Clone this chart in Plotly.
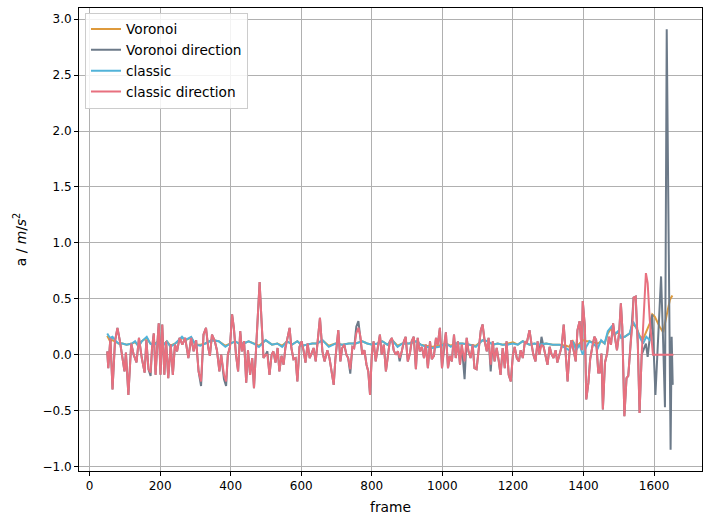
import plotly.graph_objects as go

# ---- data ----
# classic direction / Voronoi direction share these frames up to 1582
frames_dir = [
    50, 53, 59, 65, 72, 79, 86, 93, 99, 103,
    110, 118, 125, 133, 140, 148, 156, 161, 167, 173,
    177, 182, 187, 192, 196, 201, 206, 212, 217, 223,
    230, 236, 242, 248, 255, 263, 271, 280, 288, 295,
    302, 309, 316, 323, 330, 336, 341, 347, 355, 361,
    368, 373, 381, 387, 392, 398, 404, 409, 415, 421,
    427, 432, 438, 444, 449, 455, 461, 466, 472, 478,
    482, 487, 493, 499, 504, 510, 516, 521, 527, 533,
    538, 544, 550, 555, 561, 567, 572, 578, 584, 589,
    595, 601, 607, 612, 618, 624, 629, 635, 641, 646,
    653, 660, 666, 674, 680, 692, 697, 705, 711, 716,
    722, 728, 733, 739, 745, 750, 756, 762, 768, 773,
    779, 785, 790, 795, 800, 805, 811, 817, 823, 828,
    834, 840, 845, 851, 857, 862, 868, 874, 879, 885,
    891, 896, 902, 908, 913, 919, 925, 930, 936, 942,
    948, 953, 959, 965, 970, 976, 982, 987, 993, 999,
    1005, 1010, 1016, 1021, 1027, 1033, 1038, 1044, 1050, 1055,
    1063, 1069, 1074, 1080, 1086, 1091, 1097, 1103, 1109, 1114,
    1120, 1126, 1131, 1137, 1143, 1148, 1154, 1160, 1165, 1171,
    1177, 1182, 1188, 1194, 1200, 1205, 1211, 1217, 1222, 1228,
    1234, 1239, 1247, 1253, 1258, 1264, 1270, 1275, 1281, 1287,
    1292, 1298, 1304, 1309, 1315, 1321, 1326, 1332, 1338, 1344,
    1349, 1355, 1360, 1366, 1372, 1378, 1383, 1389, 1395, 1398,
    1404, 1408, 1414, 1419, 1425, 1431, 1436, 1442, 1446, 1451,
    1455, 1461, 1467, 1472, 1478, 1484, 1489, 1495, 1501, 1506,
    1510, 1516, 1522, 1527, 1533, 1539, 1542, 1548, 1554, 1559,
    1565, 1571, 1577, 1582,
]

classic_direction = [
    0.03, -0.12, 0.15, -0.31, 0.12, 0.24, 0.12, -0.03, -0.15, 0.02,
    -0.36, 0.10, 0.00, -0.07, 0.15, -0.03, -0.16, 0.13, -0.13, -0.16,
    0.06, 0.19, -0.18, 0.09, 0.28, -0.18, 0.27, -0.18, 0.12, -0.21,
    0.09, -0.18, 0.09, 0.03, 0.15, 0.09, 0.15, -0.03, 0.15, 0.03,
    0.13, -0.15, -0.24, 0.18, 0.24, 0.07, -0.01, 0.18, 0.12, 0.04,
    -0.15, 0.00, -0.18, -0.24, 0.00, 0.07, 0.36, 0.24, 0.00, -0.15,
    0.21, 0.03, 0.12, -0.25, 0.04, -0.18, -0.03, -0.30, 0.06, 0.36,
    0.65, 0.33, -0.03, 0.00, 0.00, -0.18, 0.00, 0.03, -0.07, 0.06,
    -0.15, -0.01, -0.09, 0.06, 0.15, 0.24, 0.06, -0.04, -0.03, -0.24,
    0.07, 0.12, 0.03, -0.07, 0.10, -0.03, 0.01, 0.06, -0.06, 0.09,
    0.33, 0.03, -0.06, 0.04, -0.03, -0.27, -0.03, 0.22, -0.06, 0.06,
    0.09, 0.00, -0.03, -0.13, 0.07, 0.06, 0.19, 0.24, 0.16, 0.00,
    0.04, -0.09, -0.15, -0.36, 0.00, 0.12, -0.06, 0.07, 0.18, 0.00,
    0.09, -0.15, -0.03, 0.12, 0.15, 0.04, 0.00, 0.03, -0.03, 0.03,
    0.12, 0.16, -0.06, 0.01, 0.12, 0.16, -0.13, 0.15, 0.03, 0.07,
    -0.03, 0.09, -0.12, 0.12, -0.04, -0.01, 0.15, 0.09, 0.24, -0.12,
    0.09, 0.20, -0.12, -0.01, -0.06, 0.18, -0.03, 0.12, -0.09, 0.09,
    -0.06, 0.15, 0.03, -0.03, 0.09, -0.12, -0.13, 0.03, 0.22, 0.27,
    0.12, 0.03, 0.15, -0.09, 0.12, -0.06, 0.06, -0.06, -0.18, 0.06,
    -0.12, 0.12, -0.18, -0.24, 0.00, 0.07, -0.03, -0.06, 0.04, -0.03,
    0.12, 0.10, 0.22, 0.09, 0.00, -0.06, 0.12, 0.00, 0.09, 0.07,
    -0.01, -0.09, 0.07, 0.01, -0.03, 0.04, -0.07, 0.01, 0.07, 0.27,
    0.03, -0.24, 0.01, 0.13, 0.04, -0.06, 0.22, 0.30, 0.04, 0.48,
    0.25, -0.40, -0.25, -0.04, 0.07, 0.16, 0.13, -0.16, -0.16, 0.01,
    -0.49, -0.07, 0.01, 0.16, 0.09, 0.28, 0.16, 0.04, 0.19, 0.46,
    0.25, -0.55, -0.21, -0.19, 0.07, 0.28, 0.51, 0.52, 0.10, -0.52,
    0.00, 0.34, 0.73, 0.64,
]
frames_classic_direction_tail = [1588, 1597, 1620, 1655]
classic_direction_tail = [0.31, 0.00, 0.00, 0.00]

voronoi_direction = [
    0.03, -0.12, 0.15, -0.31, 0.12, 0.24, 0.12, -0.03, -0.15, 0.02,
    -0.36, 0.10, 0.00, -0.07, 0.15, -0.03, -0.16, 0.13, -0.13, -0.19,
    0.06, 0.19, -0.18, 0.09, 0.28, -0.18, 0.27, -0.18, 0.12, -0.21,
    0.09, -0.18, 0.09, 0.03, 0.15, 0.09, 0.15, -0.03, 0.15, 0.03,
    0.13, -0.15, -0.28, 0.18, 0.24, 0.07, -0.01, 0.18, 0.12, 0.04,
    -0.15, 0.00, -0.22, -0.28, 0.00, 0.07, 0.36, 0.24, 0.00, -0.15,
    0.21, 0.03, 0.12, -0.25, 0.04, -0.18, -0.03, -0.30, 0.06, 0.36,
    0.65, 0.33, -0.03, 0.00, 0.03, -0.18, 0.00, 0.03, -0.07, 0.06,
    -0.15, -0.01, -0.09, 0.06, 0.15, 0.24, 0.06, -0.04, -0.03, -0.24,
    0.07, 0.12, 0.03, -0.07, 0.10, -0.03, 0.01, 0.06, -0.06, 0.09,
    0.33, 0.03, -0.06, 0.04, -0.03, -0.27, -0.03, 0.22, -0.06, 0.06,
    0.09, 0.00, -0.03, -0.17, 0.07, 0.06, 0.25, 0.30, 0.16, 0.00,
    0.04, -0.09, -0.15, -0.36, 0.00, 0.12, -0.06, 0.07, 0.18, 0.00,
    0.09, -0.15, -0.03, 0.12, 0.15, 0.04, 0.00, 0.03, -0.06, 0.03,
    0.12, 0.16, -0.06, 0.01, 0.12, 0.16, -0.13, 0.15, 0.03, 0.07,
    -0.03, 0.09, -0.12, 0.12, -0.04, -0.01, 0.15, 0.09, 0.24, -0.12,
    0.09, 0.20, -0.12, -0.01, -0.06, 0.18, -0.03, 0.12, -0.09, 0.09,
    -0.22, 0.15, 0.03, -0.03, 0.09, -0.12, -0.13, 0.03, 0.22, 0.27,
    0.12, 0.03, 0.15, -0.15, 0.12, -0.06, 0.06, -0.06, -0.18, 0.06,
    -0.12, 0.12, -0.18, -0.24, 0.00, 0.07, -0.03, -0.06, 0.04, -0.03,
    0.12, 0.10, 0.22, 0.09, 0.00, -0.06, 0.12, 0.00, 0.16, 0.07,
    -0.01, -0.09, 0.07, 0.01, -0.03, 0.04, -0.07, 0.01, 0.07, 0.27,
    0.03, -0.24, 0.01, 0.13, 0.04, -0.06, 0.22, 0.30, 0.04, 0.48,
    0.25, -0.40, -0.25, -0.04, 0.07, 0.16, 0.13, -0.16, -0.16, 0.01,
    -0.49, -0.07, 0.01, 0.16, 0.09, 0.28, 0.16, 0.04, 0.19, 0.46,
    0.25, -0.55, -0.21, -0.19, 0.07, 0.37, 0.51, 0.52, 0.10, -0.52,
    0.00, 0.05, 0.10, -0.02,
]
frames_voronoi_direction_tail = [1588, 1595, 1604, 1612, 1620, 1626, 1631, 1636, 1647, 1650, 1653]
voronoi_direction_tail = [0.15, 0.36, -0.36, 0.15, 0.70, 0.10, -0.47, 2.91, -0.85, 0.16, -0.27]

# classic / Voronoi share these frames up to 1588
frames_smooth = [
    50, 58, 65, 72, 82, 93, 105, 120, 129, 139,
    148, 162, 172, 181, 195, 210, 219, 229, 243, 262,
    271, 288, 300, 314, 328, 347, 366, 385, 399, 413,
    423, 437, 451, 465, 480, 499, 517, 532, 546, 560,
    574, 589, 603, 617, 631, 645, 660, 678, 697, 716,
    735, 754, 773, 787, 802, 816, 830, 844, 858, 873,
    887, 906, 925, 939, 953, 972, 991, 1010, 1024, 1038,
    1057, 1076, 1095, 1114, 1128, 1143, 1157, 1171, 1185, 1200,
    1214, 1228, 1247, 1261, 1275, 1294, 1313, 1332, 1351, 1360,
    1370, 1379, 1389, 1398, 1408, 1417, 1427, 1441, 1450, 1460,
    1469, 1479, 1488, 1498, 1507, 1517, 1531, 1540, 1550, 1559,
    1569, 1578, 1588,
]
classic = [
    0.19, 0.15, 0.16, 0.13, 0.10, 0.10, 0.09, 0.10, 0.12, 0.07,
    0.12, 0.16, 0.10, 0.08, 0.12, 0.09, 0.12, 0.07, 0.10, 0.16,
    0.13, 0.16, 0.09, 0.08, 0.10, 0.13, 0.12, 0.07, 0.10, 0.12,
    0.10, 0.10, 0.12, 0.10, 0.07, 0.13, 0.09, 0.10, 0.07, 0.12,
    0.09, 0.12, 0.08, 0.09, 0.10, 0.10, 0.13, 0.07, 0.10, 0.09,
    0.10, 0.10, 0.12, 0.10, 0.09, 0.10, 0.12, 0.09, 0.13, 0.07,
    0.10, 0.10, 0.12, 0.09, 0.07, 0.06, 0.07, 0.10, 0.07, 0.10,
    0.10, 0.09, 0.07, 0.13, 0.12, 0.09, 0.10, 0.09, 0.09, 0.10,
    0.09, 0.12, 0.09, 0.10, 0.09, 0.10, 0.09, 0.09, 0.06, 0.04,
    0.12, 0.04, 0.09, 0.00, 0.07, 0.12, 0.10, 0.06, 0.13, 0.10,
    0.21, 0.25, 0.18, 0.21, 0.15, 0.16, 0.19, 0.30, 0.24, 0.16,
    0.10, 0.16, 0.13,
]
frames_classic_tail = [1592]
classic_tail = [0.15]

voronoi = [
    0.17, 0.12, 0.13, 0.12, 0.10, 0.10, 0.09, 0.10, 0.11, 0.08,
    0.12, 0.15, 0.10, 0.09, 0.12, 0.09, 0.12, 0.08, 0.10, 0.15,
    0.13, 0.15, 0.09, 0.09, 0.10, 0.13, 0.12, 0.08, 0.10, 0.12,
    0.10, 0.10, 0.12, 0.10, 0.08, 0.13, 0.09, 0.10, 0.08, 0.12,
    0.09, 0.12, 0.08, 0.09, 0.10, 0.10, 0.13, 0.08, 0.10, 0.09,
    0.10, 0.10, 0.12, 0.10, 0.09, 0.10, 0.12, 0.09, 0.13, 0.08,
    0.10, 0.10, 0.12, 0.09, 0.08, 0.07, 0.08, 0.10, 0.08, 0.10,
    0.10, 0.09, 0.08, 0.13, 0.12, 0.09, 0.10, 0.09, 0.10, 0.11,
    0.09, 0.12, 0.09, 0.10, 0.09, 0.10, 0.09, 0.09, 0.08, 0.07,
    0.12, 0.07, 0.10, 0.13, 0.12, 0.12, 0.11, 0.10, 0.12, 0.10,
    0.19, 0.24, 0.18, 0.20, 0.15, 0.16, 0.19, 0.28, 0.24, 0.17,
    0.14, 0.20, 0.28,
]
frames_voronoi_tail = [1595, 1602, 1616, 1626, 1635, 1645, 1652]
voronoi_tail = [0.36, 0.34, 0.25, 0.20, 0.34, 0.49, 0.53]

x_ticks = [0, 200, 400, 600, 800, 1000, 1200, 1400, 1600]
y_ticks = [-1.0, -0.5, 0.0, 0.5, 1.0, 1.5, 2.0, 2.5, 3.0]

colors = {
    "Voronoi": "#DE9A3C",
    "Voronoi direction": "#6C7A89",
    "classic": "#52B3D9",
    "classic direction": "#E8707F",
}

series = [
    ("Voronoi", frames_smooth + frames_voronoi_tail, voronoi + voronoi_tail),
    ("Voronoi direction", frames_dir + frames_voronoi_direction_tail, voronoi_direction + voronoi_direction_tail),
    ("classic", frames_smooth + frames_classic_tail, classic + classic_tail),
    ("classic direction", frames_dir + frames_classic_direction_tail, classic_direction + classic_direction_tail),
]

fig = go.Figure()
for name, xs, ys in series:
    fig.add_trace(go.Scatter(x=xs, y=ys, mode="lines", name=name,
                             line=dict(color=colors[name], width=2)))

axis_common = dict(
    showline=True, mirror=True, linecolor="black", linewidth=1,
    ticks="outside", ticklen=4, tickwidth=1, tickcolor="black",
    showgrid=True, gridcolor="#b0b0b0", gridwidth=1, zeroline=False,
    tickfont=dict(family="DejaVu Sans", size=12, color="black"),
)

fig.update_layout(
    width=708, height=525,
    margin=dict(l=79, r=6, t=8, b=54),
    paper_bgcolor="white", plot_bgcolor="white",
    font=dict(family="DejaVu Sans", size=12, color="black"),
    xaxis=dict(range=[-30, 1736], tickvals=x_ticks,
               title=dict(text="frame", standoff=9,
                          font=dict(family="DejaVu Sans", size=13.8)),
               **axis_common),
    yaxis=dict(range=[-1.04, 3.10], tickvals=y_ticks, tickformat=".1f",
               title=dict(text="a / <i>m</i>/<i>s</i><sup>2</sup>", standoff=12,
                          font=dict(family="DejaVu Sans", size=13.8)),
               **axis_common),
    legend=dict(x=0.0096, y=0.99, xanchor="left", yanchor="top",
                bgcolor="rgba(255,255,255,0.85)", bordercolor="#cccccc", borderwidth=1,
                font=dict(family="DejaVu Sans", size=13.7, color="black"),
                itemwidth=30, tracegroupgap=0),
    showlegend=True,
)

fig.write_html("out.html")
